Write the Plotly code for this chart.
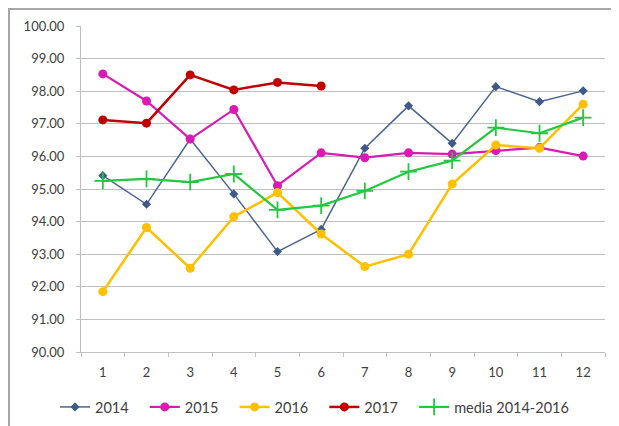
import plotly.graph_objects as go

months = ["1", "2", "3", "4", "5", "6", "7", "8", "9", "10", "11", "12"]
s2014 = [95.41, 94.53, 96.53, 94.85, 93.08, 93.76, 96.25, 97.55, 96.40, 98.14, 97.68, 98.01]
s2015 = [98.53, 97.70, 96.53, 97.44, 95.10, 96.11, 95.96, 96.11, 96.07, 96.18, 96.27, 96.01]
s2016 = [91.85, 93.82, 92.57, 94.15, 94.89, 93.62, 92.62, 93.00, 95.15, 96.35, 96.25, 97.60]
s2017 = [97.12, 97.02, 98.50, 98.04, 98.27, 98.16]
media = [95.25, 95.31, 95.21, 95.46, 94.36, 94.49, 94.94, 95.53, 95.87, 96.88, 96.71, 97.19]
yticks = [90, 91, 92, 93, 94, 95, 96, 97, 98, 99, 100]

FONT = "Lato"
PAD = "\u00a0" * 3  # spacing after legend labels

# page body has an 8px margin; figure is laid out in its own coordinates
W, H = 611, 418
OFF = 8
L, R, T, B = 81 - OFF, W - (605 - OFF), 26 - OFF, H - (352 - OFF)

fig = go.Figure()
fig.add_trace(go.Scatter(x=months, y=s2014, name="2014" + PAD, mode="lines+markers",
                         line=dict(color="#4A6491", width=1.5),
                         marker=dict(symbol="diamond", size=7, color="#3F5A8A")))
fig.add_trace(go.Scatter(x=months, y=s2015, name="2015" + PAD, mode="lines+markers",
                         line=dict(color="#D91AB4", width=2.2),
                         marker=dict(symbol="circle", size=9, color="#D91AB4")))
fig.add_trace(go.Scatter(x=months, y=s2016, name="2016" + PAD, mode="lines+markers",
                         line=dict(color="#FFC000", width=2.5),
                         marker=dict(symbol="circle", size=9, color="#FFC000")))
fig.add_trace(go.Scatter(x=months[:len(s2017)], y=s2017, name="2017" + PAD, mode="lines+markers",
                         line=dict(color="#C00000", width=2.5),
                         marker=dict(symbol="circle", size=9, color="#C00000")))
fig.add_trace(go.Scatter(x=months, y=media, name="media 2014-2016", mode="lines+markers",
                         line=dict(color="#22C840", width=2.2),
                         marker=dict(symbol="cross-thin", size=12,
                                     line=dict(color="#22C840", width=1.8))))

pw, ph = W - L - R, H - T - B
def px(x): return (x - OFF - L) / pw
def py(y): return 1 - (y - OFF - T) / ph

fig.update_layout(
    width=W, height=H,
    margin=dict(l=L, r=R, t=T, b=B, autoexpand=False),
    paper_bgcolor="white", plot_bgcolor="white",
    font=dict(family=FONT, size=13, color="#404040"),
    showlegend=True,
    legend=dict(orientation="h", x=px(55), xanchor="left", y=py(407), yanchor="middle",
                font=dict(family=FONT, size=14.5, color="#404040"),
                itemwidth=30, tracegroupgap=0, bgcolor="rgba(0,0,0,0)"),
    xaxis=dict(type="category", showgrid=False, showline=True, linecolor="#BFBFBF",
               linewidth=1, ticks="outside", tickson="boundaries", ticklen=4,
               tickcolor="#BFBFBF", range=[-0.5, 11.5], fixedrange=True,
               ticklabelstandoff=8,
               tickfont=dict(family=FONT, size=13, color="#404040")),
    yaxis=dict(range=[90, 100], tickvals=yticks, ticktext=[f"{v:.2f}" for v in yticks],
               showgrid=True, gridcolor="#BFBFBF", gridwidth=1, showline=True,
               linecolor="#BFBFBF", linewidth=1, ticks="outside", ticklen=4,
               tickcolor="#BFBFBF", zeroline=False, ticklabelstandoff=9,
               tickfont=dict(family=FONT, size=13, color="#404040")),
)

# outer chart frame
fig.add_shape(type="rect", xref="paper", yref="paper",
              x0=px(9), x1=px(640), y0=py(450), y1=py(9),
              line=dict(color="#A6A6A6", width=2), fillcolor="rgba(0,0,0,0)", layer="below")

fig.write_html("out.html")
